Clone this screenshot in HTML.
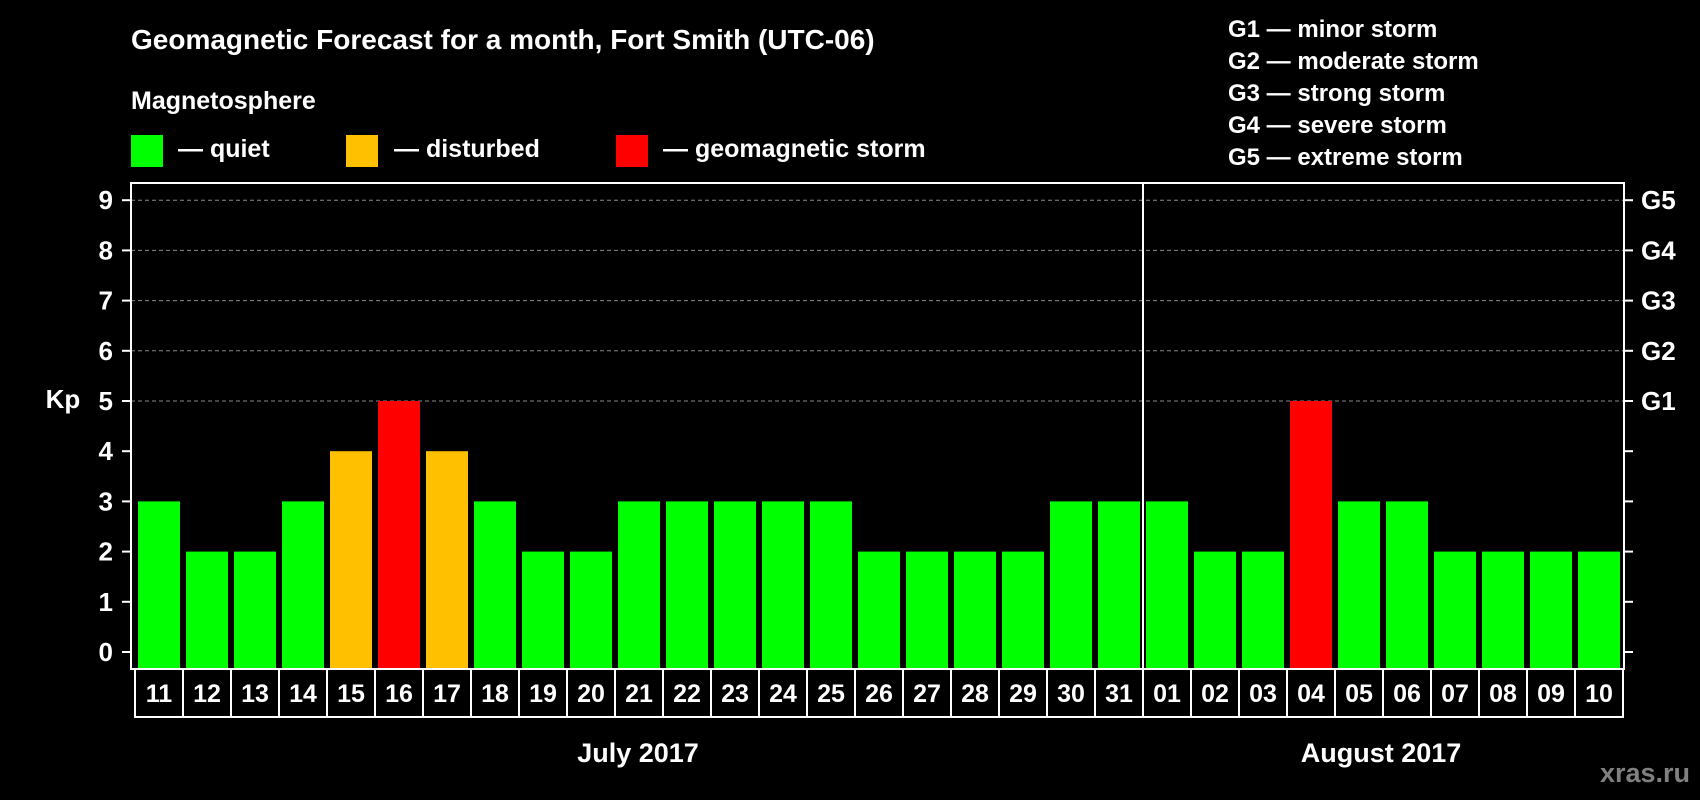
<!DOCTYPE html>
<html><head><meta charset="utf-8"><style>
html,body{margin:0;padding:0;background:#000;}
svg{display:block;font-family:"Liberation Sans",Arial,sans-serif;font-weight:bold;}
</style></head><body>
<svg id="chart" width="1700" height="800" viewBox="0 0 1700 800">
<rect x="0" y="0" width="1700" height="800" fill="#000"/>
<text x="131" y="49" fill="#fff" font-size="28">Geomagnetic Forecast for a month, Fort Smith (UTC-06)</text>
<text x="131" y="109" fill="#fff" font-size="25">Magnetosphere</text>
<g>
<rect x="131" y="135" width="32" height="32" fill="#00ff00"/>
<text x="178" y="157" fill="#fff" font-size="25">— quiet</text></g>
<g>
<rect x="346" y="135" width="32" height="32" fill="#ffc000"/>
<text x="394" y="157" fill="#fff" font-size="25">— disturbed</text></g>
<g>
<rect x="616" y="135" width="32" height="32" fill="#ff0000"/>
<text x="663" y="157" fill="#fff" font-size="25">— geomagnetic storm</text></g>
<g font-size="24" fill="#fff">
<text x="1228" y="37">G1 — minor storm</text>
<text x="1228" y="69">G2 — moderate storm</text>
<text x="1228" y="101">G3 — strong storm</text>
<text x="1228" y="133">G4 — severe storm</text>
<text x="1228" y="165">G5 — extreme storm</text>
</g>
<text x="63" y="408" fill="#fff" font-size="26" text-anchor="middle">Kp</text>
<g id="grid"></g>
<g id="bars"></g>
<rect x="131" y="183" width="1493" height="486" fill="none" stroke="#fff" stroke-width="2"/>
<line x1="1143" y1="183" x2="1143" y2="669" stroke="#fff" stroke-width="2"/>
<g id="axes"></g>
<g id="dates"></g>
<text x="638" y="762" fill="#fff" font-size="27" text-anchor="middle">July 2017</text>
<text x="1381" y="762" fill="#fff" font-size="27" text-anchor="middle">August 2017</text>
<text x="1690" y="782" fill="#808080" font-size="27" text-anchor="end">xras.ru</text>
</svg>
<script>
const days = ["11","12","13","14","15","16","17","18","19","20","21","22","23","24","25","26","27","28","29","30","31","01","02","03","04","05","06","07","08","09","10"];
const kpValues = [3,2,2,3,4,5,4,3,2,2,3,3,3,3,3,2,2,2,2,3,3,3,2,2,5,3,3,2,2,2,2];
const yTicks = ["0","1","2","3","4","5","6","7","8","9"];
const gLabels = ["G1","G2","G3","G4","G5"];
const NS = "http://www.w3.org/2000/svg";
const y0 = 652, unit = 50.2, x0 = 135, slot = 48, barW = 42, bottom = 669;
function yScale(v){ return y0 - v*unit; }
function xScale(i){ return x0 + i*slot; }
function mk(tag, attrs, parent){ const e = document.createElementNS(NS, tag); for (const k in attrs) e.setAttribute(k, attrs[k]); parent.appendChild(e); return e; }
const grid = document.getElementById('grid'), bars = document.getElementById('bars'), axes = document.getElementById('axes'), dates = document.getElementById('dates');
for (let v = 5; v <= 9; v++) {
  const l = mk('line', {x1:131, x2:1624, y1:yScale(v), y2:yScale(v), stroke:'#888', 'stroke-width':1, 'stroke-dasharray':'4,3'}, grid);
  
  
}
yTicks.forEach((t, i) => {
  const v = +t;
  const tk = mk('line', {x1:122, x2:131, y1:yScale(v), y2:yScale(v), stroke:'#fff', 'stroke-width':2}, axes);
  
  
  const tx = mk('text', {x:113, y:yScale(v)+9, fill:'#fff', 'font-size':26, 'text-anchor':'end'}, axes);
  tx.textContent = t;
  
  
  const rt = mk('line', {x1:1624, x2:1633, y1:yScale(v), y2:yScale(v), stroke:'#fff', 'stroke-width':2}, axes);
  
  
});
gLabels.forEach((g, i) => {
  const t = mk('text', {x:1641, y:yScale(5+i)+9, fill:'#fff', 'font-size':26}, axes);
  t.textContent = g;
  
  
});
kpValues.forEach((v, i) => {
  const col = v >= 5 ? '#ff0000' : (v >= 4 ? '#ffc000' : '#00ff00');
  const cx = xScale(i) + slot/2;
  const b = mk('rect', {x:cx - barW/2, y:yScale(v), width:barW, height:bottom - yScale(v), fill:col}, bars);
  
  
});
days.forEach((d, i) => {
  const r = mk('rect', {x:xScale(i), y:669, width:slot, height:48, fill:'none', stroke:'#fff', 'stroke-width':2}, dates);
  
  
  const t = mk('text', {x:xScale(i)+slot/2, y:702, fill:'#fff', 'font-size':25, 'text-anchor':'middle'}, dates);
  t.textContent = d;
  
  
});
</script>
</body></html>
